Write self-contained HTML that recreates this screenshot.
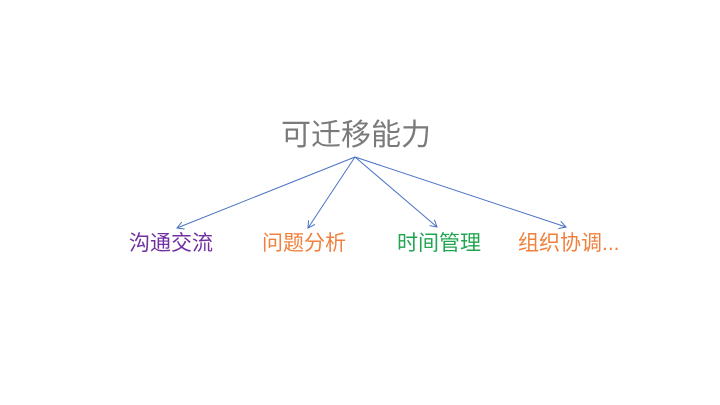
<!DOCTYPE html>
<html><head><meta charset="utf-8"><style>
body{margin:0;width:720px;height:405px;background:#fff;position:relative;overflow:hidden;font-family:"Liberation Sans","Noto Sans CJK SC",sans-serif}
.t{position:absolute;white-space:nowrap;line-height:1}
</style></head><body>
<div class="t" style="left:281px;top:121px;font-size:30px;color:#7a7a7a">可迁移能力</div>
<svg width="720" height="405" style="position:absolute;left:0;top:0">
<defs><marker id="a" markerWidth="8" markerHeight="8" refX="7" refY="4" orient="auto" markerUnits="userSpaceOnUse"><path d="M0,0 L7,4 L0,8" fill="none" stroke="#4a72c4" stroke-width="1"/></marker></defs>
<g stroke="#4a72c4" stroke-width="1" fill="none" marker-end="url(#a)">
<line x1="355" y1="157" x2="177" y2="228"/>
<line x1="355" y1="157" x2="308" y2="228"/>
<line x1="355" y1="157" x2="437" y2="227"/>
<line x1="355" y1="157" x2="566" y2="227"/>
</g></svg>
<div class="t" style="left:129px;top:233px;font-size:21px;color:#7030a0">沟通交流</div>
<div class="t" style="left:262px;top:233px;font-size:21px;color:#f0803c">问题分析</div>
<div class="t" style="left:397px;top:233px;font-size:21px;color:#22a550">时间管理</div>
<div class="t" style="left:518px;top:233px;font-size:21px;color:#f0803c">组织协调...</div>
</body></html>
